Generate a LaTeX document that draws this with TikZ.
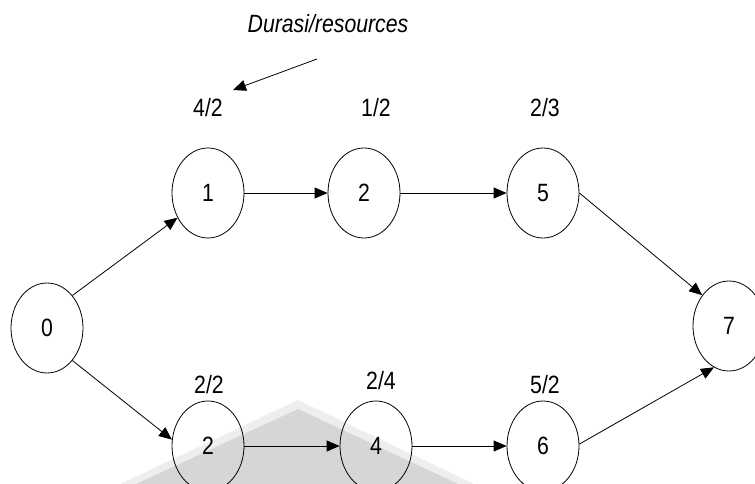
\documentclass[tikz,border=0pt]{standalone}
\usepackage{fontspec}
\setmainfont{Liberation Sans}[FakeStretch=0.85]
\usetikzlibrary{shapes.geometric, arrows.meta}

\definecolor{markgray}{RGB}{214,214,214}
\definecolor{marklight}{RGB}{238,238,238}

\tikzset{
  event/.style={draw, ellipse, line width=0.8pt, minimum width=72pt, minimum height=90pt, inner sep=0pt},
  act/.style={line width=0.8pt, -{Triangle[length=13pt, width=11pt]}},
}

\begin{document}
\begin{tikzpicture}[x=1pt, y=-1pt, font=\fontsize{25}{30}\selectfont]
        \useasboundingbox (0, 0) rectangle (755, 484);

        % faded mark under the lower row
        \fill[marklight] (120, 484) -- (298, 400) -- (474, 484) -- cycle;
        \fill[markgray] (136, 484) -- (298, 409) -- (458, 484) -- cycle;

        % Upper path
        \node[event] (e0) at (47, 328) {0};
        \node[event] (e1) at (208, 193) {1};
        \node[event] (e2) at (364, 193) {2};
        \node[event] (e5) at (543, 193) {5};
        \node[event] (e7) at (729, 326) {7};
        \node (d1) at (208, 108) {4/2};
        \node (d2) at (376, 108) {1/2};
        \node (d5) at (545, 108) {2/3};

        % Lower path
        \node[event] (f2) at (208, 446) {2};
        \node[event] (f4) at (376, 446) {4};
        \node[event] (f6) at (543, 446) {6};
        \node (g2) at (209, 385) {2/2};
        \node (g4) at (381, 381) {2/4};
        \node (g6) at (545, 385) {5/2};

        % Arrows
        \draw[act] (e0.52) -- (e1.219);
        \draw[act] (e1) -- (e2);
        \draw[act] (e2) -- (e5);
        \draw[act] (e5.0) -- (e7.131);
        \draw[act] (e0.-52) -- (f2.170);
        \draw[act] (f2) -- (f4);
        \draw[act] (f4) -- (f6);
        \draw[act] (f6.3) -- (e7.250);

        % key
        \node[font=\fontsize{25}{30}\selectfont\itshape] (key) at (328, 24) {Durasi/resources};
        \coordinate (keyfrom) at (317, 59);
        \coordinate (keyto) at (233, 90);
        \draw[act] (keyfrom) -- (keyto);
\end{tikzpicture}
\end{document}
